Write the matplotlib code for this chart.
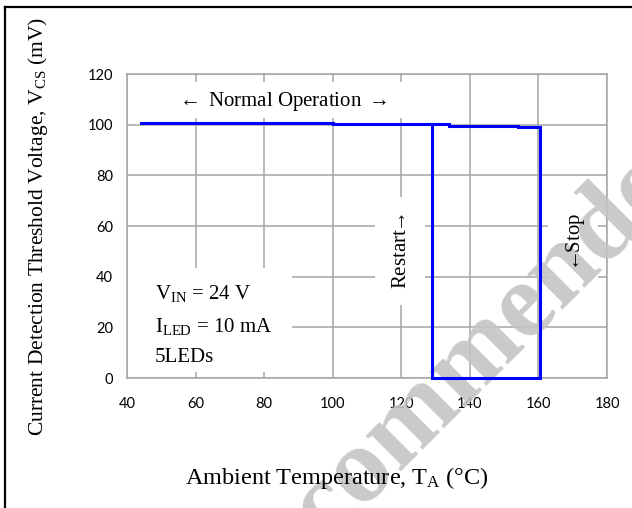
import matplotlib
matplotlib.use("Agg")
import matplotlib.pyplot as plt
from matplotlib.lines import Line2D
from matplotlib.patches import Rectangle

# ---- data ----
temp_c = [44, 100, 100, 134, 134, 154, 154, 160.5, 160.5, 129, 129]
vcs_mv = [100.8, 100.8, 100.2, 100.2, 99.6, 99.6, 99.0, 99.0, 0, 0, 100.2]
x_ticks = [40, 60, 80, 100, 120, 140, 160, 180]
y_ticks = [0, 20, 40, 60, 80, 100, 120]

plt.rcParams['mathtext.fontset'] = 'custom'
plt.rcParams['mathtext.rm'] = 'Liberation Serif'
plt.rcParams['mathtext.it'] = 'Liberation Serif:italic'
plt.rcParams['mathtext.fallback'] = 'cm'
SERIF = ['Liberation Serif', 'DejaVu Serif']
FS = 15

W, H = 632, 508
fig = plt.figure(figsize=(W / 100, H / 100), dpi=100)
ax = fig.add_axes([127 / W, 1 - 378 / H, 480 / W, 304 / H])

grid_c = '#a6a6a6'
ax.set_xlim(40, 180)
ax.set_ylim(0, 120)
ax.set_xticks(x_ticks)
ax.set_yticks(y_ticks)
ax.grid(True, color=grid_c, linewidth=1.1, zorder=0)
ax.set_axisbelow(True)
for s in ax.spines.values():
    s.set_color(grid_c)
    s.set_linewidth(1.1)
ax.tick_params(length=0, labelsize=10.5, colors='black')
ax.tick_params(axis='x', pad=14)
ax.tick_params(axis='y', pad=10)
for lab in ax.get_xticklabels() + ax.get_yticklabels():
    lab.set_family('Lato')

# white masks under the text labels
for (x0, x1, y0, y1) in [(43.5, 125.5, 102.6, 116.8),
                         (112.3, 126.9, 28.8, 71.4),
                         (162.8, 177.4, 34.7, 70.3),
                         (40.2, 88.1, 2.4, 43.4)]:
    ax.add_patch(Rectangle((x0, y0), x1 - x0, y1 - y0, facecolor='white',
                           edgecolor='none', zorder=1))

# watermark (under the data line, over grid)
ax.text(462 / W, 1 - 372 / H, 'Recommended', family=SERIF, fontweight='bold',
        fontsize=78, color='#c4c4c4', alpha=0.9, rotation=45, rotation_mode='anchor',
        ha='center', va='center', zorder=2.6, transform=fig.transFigure, clip_on=False)

ax.plot(temp_c, vcs_mv, color='#0000ff', linewidth=2.2, zorder=3,
        solid_joinstyle='miter', clip_on=False)

ax.text(85.2, 109.0, r'$\leftarrow$ Normal Operation $\rightarrow$', family=SERIF, fontsize=FS,
        ha='center', va='center', zorder=4)
ax.text(120.2, 50.0, r'Restart$\!\!{\rightarrow}$', family=SERIF, fontsize=FS, rotation=90,
        ha='center', va='center', zorder=4)
ax.text(170.7, 53.0, r'${\leftarrow}\!\!$Stop', family=SERIF, fontsize=FS, rotation=90,
        ha='center', va='center', zorder=4)
ax.text(48.2, 33.5, r'V$_{\mathrm{IN}}$ = 24 V', family=SERIF, fontsize=FS,
        ha='left', va='center', zorder=4)
ax.text(48.2, 20.4, r'I$_{\mathrm{LED}}$ = 10 mA', family=SERIF, fontsize=FS,
        ha='left', va='center', zorder=4)
ax.text(48.2, 8.0, '5LEDs', family=SERIF, fontsize=FS,
        ha='left', va='center', zorder=4)

fig.text(38 / W, 1 - 226 / H, r'Current Detection Threshold Voltage, V$_{\mathrm{CS}}$ (mV)',
         family=SERIF, fontsize=15.5, rotation=90, ha='center', va='center')
fig.text(337 / W, 1 - 478 / H, r'Ambient Temperature, T$_{\mathrm{A}}$ (°C)',
         family=SERIF, fontsize=17.5, ha='center', va='center')

# frame
fig.add_artist(Line2D([5 / W, 5 / W], [0, 1 - 7 / H], color='black', linewidth=1.6,
                      transform=fig.transFigure))
fig.add_artist(Line2D([5 / W, 1], [1 - 7 / H, 1 - 7 / H], color='black', linewidth=1.6,
                      transform=fig.transFigure))

fig.savefig('out.png', dpi=100)
